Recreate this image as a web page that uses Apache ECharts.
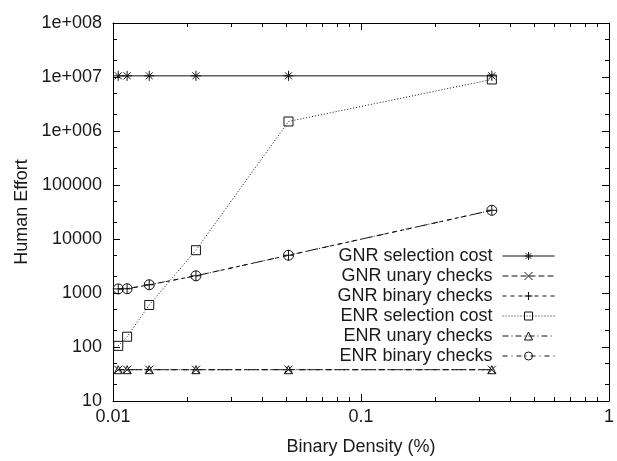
<!DOCTYPE html>
<html>
<head>
<meta charset="utf-8">
<script src="https://cdn.jsdelivr.net/npm/echarts@6/dist/echarts.min.js"></script>
<style>html,body{margin:0;padding:0;background:#fff}#c{width:617px;height:461px}</style>
</head>
<body>
<div id="c"></div>
<script>
// ---- data ----
const density = [0.0105, 0.0114, 0.014, 0.0216, 0.051, 0.337];
const gnrSelection = [10500000, 10500000, 10500000, 10500000, 10500000, 10500000];
const gnrUnary = [38, 38, 38, 38, 38, 38];
const gnrBinary = [1190, 1200, 1420, 2080, 5000, 34000];
const enrSelection = [105, 155, 600, 6200, 1500000, 9000000];
const enrUnary = [38, 38, 38, 38, 38, 38];
const enrBinary = [1190, 1200, 1420, 2080, 5000, 34000];
const seriesNames = ['GNR selection cost', 'GNR unary checks', 'GNR binary checks', 'ENR selection cost', 'ENR unary checks', 'ENR binary checks'];
const xMajor = [0.01, 0.1, 1];
const yMajor = [10, 100, 1000, 10000, 100000, 1000000, 10000000, 100000000];
const yMajorLabels = ['10', '100', '1000', '10000', '100000', '1e+006', '1e+007', '1e+008'];

const xMinor = [];
[0.01, 0.1].forEach(d => { for (let k = 2; k <= 9; k++) xMinor.push(+(d * k).toPrecision(3)); });
const yMinor = [];
[10, 100, 1000, 10000, 100000, 1000000, 10000000].forEach(d => { yMinor.push(d * 2, d * 5); });

const TXT = '#1a1a1a';
const FONT = 'Liberation Sans, Arial, Helvetica, sans-serif';

const sym = {
  star: 'path://M0,5L10,5M5,0L5,10M1.5,1.5L8.5,8.5M1.5,8.5L8.5,1.5',
  cross: 'path://M0,0L10,10M0,10L10,0',
  plus: 'path://M0,5L10,5M5,0L5,10',
  square: 'path://M0,0L10,0L10,10L0,10Z',
  triangle: 'path://M5,0L10,9L0,9Z',
  circle: 'path://M5,0A5,5,0,1,1,5,10A5,5,0,1,1,5,0Z'
};

function mk(name, ys, symbol, size, dash) {
  return {
    name: name, type: 'line', xAxisIndex: 0, yAxisIndex: 0,
    data: density.map((x, i) => [x, ys[i]]),
    symbol: symbol, symbolSize: size, showSymbol: true,
    itemStyle: { color: 'none', borderColor: '#111', borderWidth: 1 },
    lineStyle: { color: '#111', width: 1, type: dash },
    emphasis: { disabled: true },
    animation: false
  };
}

function xAx(pos, minor, labels) {
  return {
    type: 'log', logBase: 10, min: 0.01, max: 1, position: pos,
    axisLine: { show: !minor, onZero: false, lineStyle: { color: '#000', width: 1 } },
    axisTick: { show: true, inside: true, length: minor ? 4 : 7, customValues: minor ? xMinor : xMajor, lineStyle: { color: '#000' } },
    axisLabel: labels ? { show: true, customValues: xMajor, formatter: v => String(+v.toPrecision(3)), fontSize: 18, color: TXT, fontFamily: FONT, margin: 7 } : { show: false },
    splitLine: { show: false }, minorTick: { show: false },
    name: labels ? 'Binary Density (%)' : '', nameLocation: 'middle', nameGap: 37,
    nameTextStyle: { fontSize: 18, color: TXT, fontFamily: FONT }
  };
}
function yAx(pos, minor, labels) {
  return {
    type: 'log', logBase: 10, min: 10, max: 100000000, position: pos,
    axisLine: { show: !minor, onZero: false, lineStyle: { color: '#000', width: 1 } },
    axisTick: { show: true, inside: true, length: minor ? 4 : 7, customValues: minor ? yMinor : yMajor, lineStyle: { color: '#000' } },
    axisLabel: labels ? { show: true, customValues: yMajor, formatter: v => yMajorLabels[yMajor.indexOf(+v)] !== undefined ? yMajorLabels[yMajor.indexOf(+v)] : String(v), fontSize: 18, color: TXT, fontFamily: FONT, margin: 11 } : { show: false },
    splitLine: { show: false }, minorTick: { show: false },
    name: labels ? 'Human Effort' : '', nameLocation: 'middle', nameGap: 82,
    nameTextStyle: { fontSize: 18, color: TXT, fontFamily: FONT }
  };
}

const chart = echarts.init(document.getElementById('c'), null, { renderer: 'canvas' });
chart.setOption({
  backgroundColor: '#fff',
  animation: false,
  grid: { left: 113, right: 7, top: 23, bottom: 57, containLabel: false },
  xAxis: [xAx('bottom', false, true), xAx('bottom', true, false), xAx('top', false, false), xAx('top', true, false)],
  yAxis: [yAx('left', false, true), yAx('left', true, false), yAx('right', false, false), yAx('right', true, false)],
  legend: {
    orient: 'vertical', align: 'right', right: 62, top: 246, padding: 0,
    itemWidth: 52, itemHeight: 10, itemGap: 0,
    itemStyle: { borderWidth: 1 },
    lineStyle: { width: 1 },
    textStyle: { fontSize: 18, color: TXT, fontFamily: FONT, lineHeight: 20, padding: [0, 5, 0, 0] },
    data: seriesNames
  },
  series: [
    mk(seriesNames[0], gnrSelection, sym.star, 10, 'solid'),
    mk(seriesNames[1], gnrUnary, sym.cross, 8, [6, 3]),
    mk(seriesNames[2], gnrBinary, sym.plus, 10, [4, 4]),
    mk(seriesNames[3], enrSelection, sym.square, 9, [1, 2]),
    mk(seriesNames[4], enrUnary, sym.triangle, 8, [6, 3, 1, 3]),
    mk(seriesNames[5], enrBinary, sym.circle, 10, [5, 4, 1, 4])
  ]
});
</script>
</body>
</html>
